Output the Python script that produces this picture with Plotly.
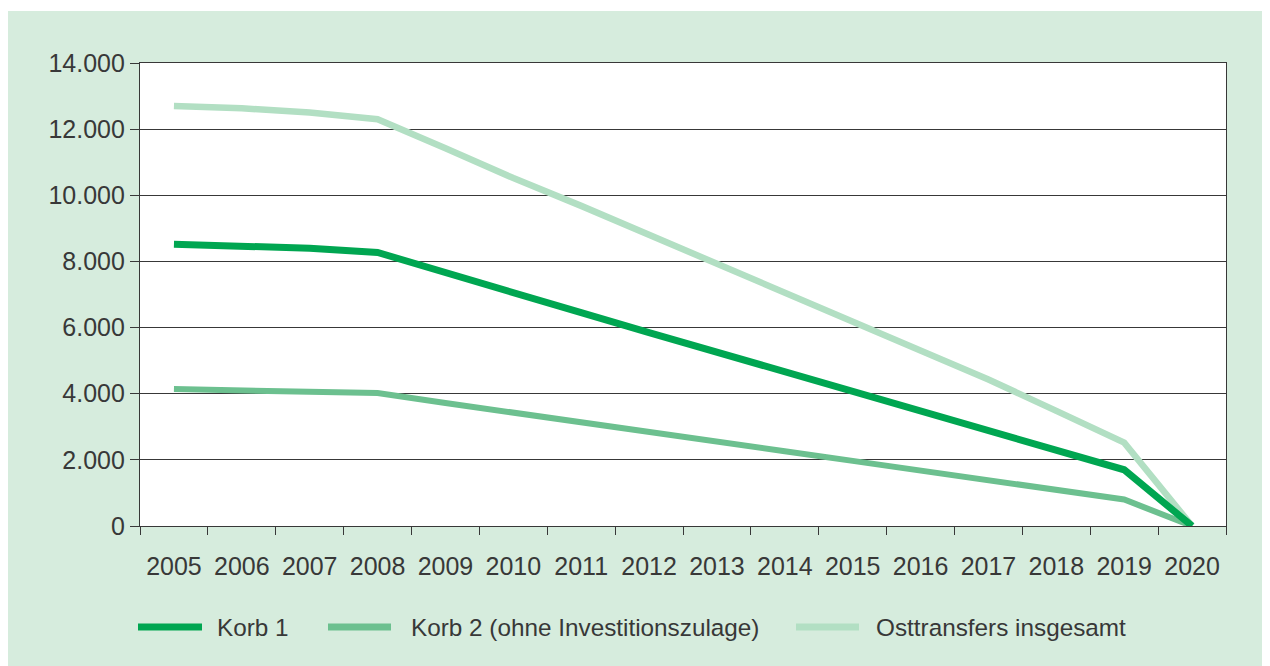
import plotly.graph_objects as go

years = [str(y) for y in range(2005, 2021)]
korb1 = [8520, 8480, 8400, 8270, 7650, 7050, 6450, 5850, 5250, 4650, 4050, 3450, 2850, 2280, 1700, 0]
korb2 = [4140, 4110, 4070, 4020, 3720, 3420, 3130, 2840, 2550, 2260, 1970, 1680, 1390, 1100, 800, 0]
ost = [12700, 12630, 12500, 12300, 11420, 10520, 9680, 8800, 7950, 7050, 6200, 5300, 4430, 3480, 2520, 0]
series_names = ["Korb 1", "Korb 2 (ohne Investitionszulage)", "Osttransfers insgesamt"]
y_ticks = [0, 2000, 4000, 6000, 8000, 10000, 12000, 14000]

C1 = "#00a651"
C2 = "#6cc08f"
C3 = "#b2dfc3"
BG = "#d6ecdd"
TXT = "#383838"
FONT = "Liberation Sans, Arial, sans-serif"

fig = go.Figure()
fig.add_trace(go.Scatter(x=years, y=ost, mode="lines", name=series_names[2],
                         line=dict(color=C3, width=6.5)))
fig.add_trace(go.Scatter(x=years, y=korb2, mode="lines", name=series_names[1],
                         line=dict(color=C2, width=6)))
fig.add_trace(go.Scatter(x=years, y=korb1, mode="lines", name=series_names[0],
                         line=dict(color=C1, width=7)))

OFF = 8  # page body margin
W, H = 1270, 666
L, R, T, B = 132, 52, 55, 148
pw, ph = W - L - R, H - T - B


def px_x(px):  # page pixel -> paper
    return (px - OFF - L) / pw


def px_y(py):
    return (H - B - (py - OFF)) / ph


shapes = [
    dict(type="rect", xref="paper", yref="paper", x0=px_x(0), x1=px_x(W + 20),
         y0=px_y(11), y1=px_y(0), fillcolor="white", line=dict(width=0), layer="below"),
]
annotations = []
leg = [(138, 202, 215, series_names[0], C1, 7),
       (328, 391, 409, series_names[1], C2, 7),
       (796, 859, 874, series_names[2], C3, 7)]
ly = px_y(627)
for x0, x1, tx, name, col, w in leg:
    shapes.append(dict(type="line", xref="paper", yref="paper", x0=px_x(x0), x1=px_x(x1),
                       y0=ly, y1=ly, line=dict(color=col, width=w)))
    annotations.append(dict(xref="paper", yref="paper", x=px_x(tx), y=ly, text=name,
                            showarrow=False, xanchor="left", yanchor="middle",
                            font=dict(size=24.3, color=TXT, family=FONT)))

fig.update_layout(
    width=W, height=H,
    margin=dict(l=L, r=R, t=T, b=B, pad=0),
    paper_bgcolor=BG, plot_bgcolor="white",
    separators=",.",
    showlegend=False,
    font=dict(family=FONT, size=25, color=TXT),
    shapes=shapes, annotations=annotations,
    xaxis=dict(type="category", range=[-0.5, 15.5], tickson="boundaries",
               ticks="outside", ticklen=8, tickcolor=TXT, tickwidth=1.3,
               showgrid=False, showline=True, linecolor=TXT, linewidth=1.3,
               mirror=True, ticklabelstandoff=18, zeroline=False),
    yaxis=dict(range=[0, 14000], tickvals=y_ticks, tickformat=",d",
               ticks="outside", ticklen=9, tickcolor=TXT, tickwidth=1.3,
               showgrid=True, gridcolor=TXT, gridwidth=1.3,
               showline=True, linecolor=TXT, linewidth=1.3, mirror=True,
               zeroline=False, ticklabelstandoff=0),
)

fig.write_html("out.html")
